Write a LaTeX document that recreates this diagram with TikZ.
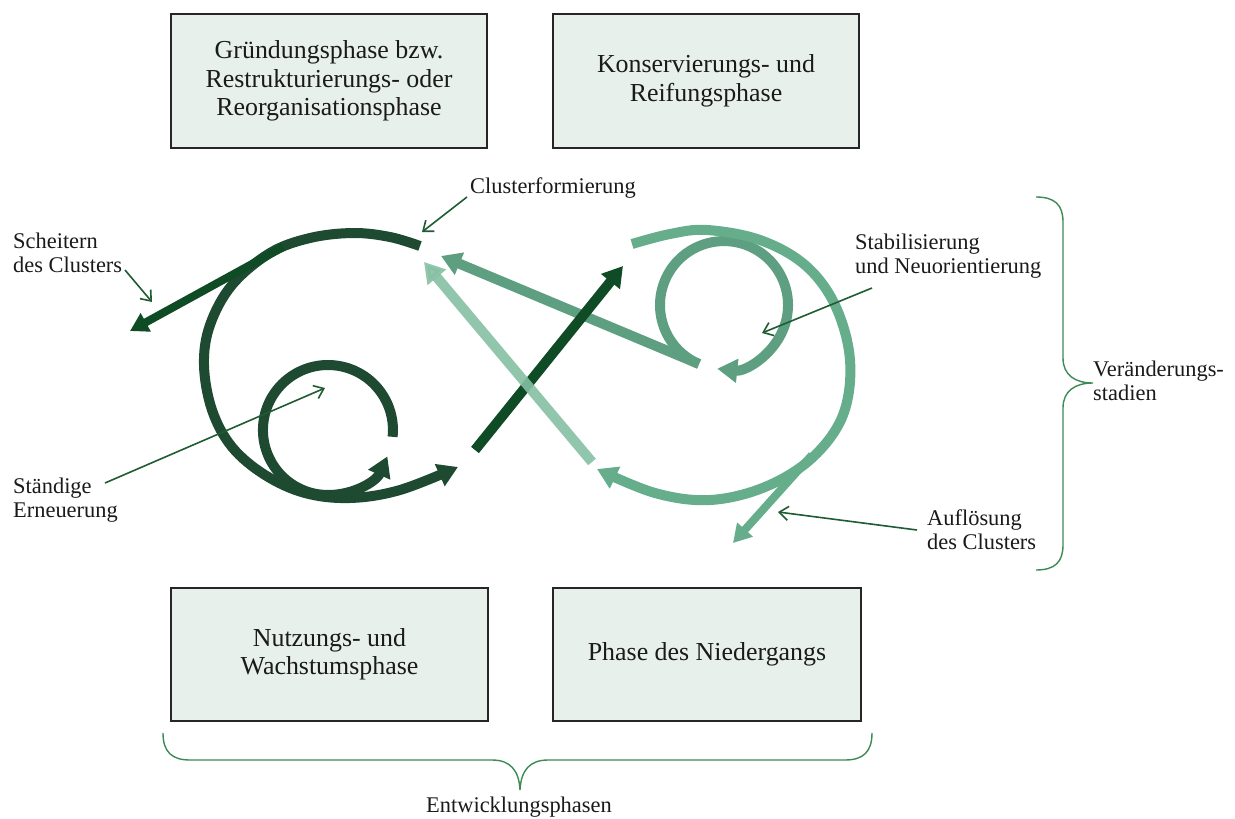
\documentclass[tikz,border=0pt]{standalone}
\usepackage{fontspec}
\setmainfont{Liberation Serif}
\usetikzlibrary{arrows.meta}
\definecolor{boxfill}{HTML}{E8F0EC}
\definecolor{boxline}{HTML}{262626}
\definecolor{darkloop}{HTML}{1D4A31}
\definecolor{darkarrow}{HTML}{0F4B24}
\definecolor{medloop}{HTML}{66AD8C}
\definecolor{medinner}{HTML}{5E9F81}
\definecolor{lightline}{HTML}{86C0A3}
\definecolor{annot}{HTML}{1F5C33}
\definecolor{bracecol}{HTML}{3C8A56}
\definecolor{txt}{HTML}{1A1A1A}
\begin{document}
\begin{tikzpicture}[x=1bp,y=-1bp,
  phasebox/.style={draw=boxline, line width=1.4bp, fill=boxfill, inner sep=0pt, align=center, text=txt, font=\fontsize{26}{28.5}\selectfont},
  lbl/.style={anchor=base west, align=left, inner sep=0pt, text=txt, font=\fontsize{22.5}{24}\selectfont},
  flow/.style={line width=10bp, -{Triangle[length=20bp,width=23bp]}},
  thinflow/.style={line width=8bp, -{Triangle[length=18bp,width=20bp]}},
  note/.style={draw=annot, line width=1.6bp, -{Straight Barb[length=9bp,width=14bp,line width=1.6bp]}},
  bracestyle/.style={draw=bracecol, line width=1.4bp},
]
\useasboundingbox (0,0) rectangle (1235,819);
\fill[white] (0,0) rectangle (1235,819);

% phase boxes
\node[phasebox, minimum width=316bp, minimum height=134bp] (b1) at (329,81) {Gründungsphase bzw.\\Restrukturierungs- oder\\Reorganisationsphase};
\node[phasebox, minimum width=306bp, minimum height=134bp] (b2) at (706,81) {Konservierungs- und\\Reifungsphase};
\node[phasebox, minimum width=317bp, minimum height=133bp] (b3) at (329.5,654.5) {Nutzungs- und\\Wachstumsphase};
\node[phasebox, minimum width=308bp, minimum height=133bp] (b4) at (707,654.5) {Phase des Niedergangs};

% labels (base anchor = baseline of last line)
\node[lbl] (cf) at (470,193) {Clusterformierung};
\node[lbl] (sc) at (13,272) {Scheitern\\des Clusters};
\node[lbl] (se) at (13,517) {Ständige\\Erneuerung};
\node[lbl] (st) at (855,273) {Stabilisierung\\und Neuorientierung};
\node[lbl] (af) at (927,549) {Auflösung\\des Clusters};
\node[lbl] (vs) at (1093,400) {Veränderungs-\\stadien};
\node[anchor=base, inner sep=0pt, text=txt, font=\fontsize{22.5}{24}\selectfont] (ep) at (519,812) {Entwicklungsphasen};

% left big loop
\draw[flow, darkloop] plot[smooth, tension=0.6] coordinates {(420,246) (390,237) (353,233) (310,238) (270,253) (232,285) (210,325) (204,365) (212,410) (232,447) (265,475) (305,493) (350,498) (400,490) (458,467)};
% small left circle
\draw[flow, darkloop] (392.6,436.8) arc[start angle=6, end angle=-336, radius=65];
% Scheitern
\draw[thinflow, darkarrow] (283,247) -- (130,331);

% right inner circle and line
\draw[flow, medinner] (699,364) arc[start angle=113, end angle=456, radius=64];
\draw[flow, medinner] (699,364) -- (441,256);
% right outer loop
\draw[flow, medloop] plot[smooth, tension=0.6] coordinates {(632,244) (670,234) (707,230) (760,240) (805,265) (835,305) (850,360) (843,415) (812,458) (765,487) (710,500) (655,493) (597,469)};
% Aufloesung
\draw[thinflow, medloop] (812,455) -- (733,543);

% dark diagonal
\draw[flow, darkarrow] (475,450) -- (623,266);
% light diagonal
\draw[flow, lightline, opacity=0.9] (592,462) -- (424,262);

% annotation arrows
\coordinate (cfS) at (467,197); \coordinate (cfT) at (422,232);
\coordinate (scS) at (125,270); \coordinate (scT) at (152,302);
\coordinate (seS) at (105,483); \coordinate (seT) at (325,388);
\coordinate (stS) at (872,288); \coordinate (stT) at (762,333);
\coordinate (afS) at (917,530); \coordinate (afT) at (778,512);
\draw[note] (cfS) -- (cfT);
\draw[note] (scS) -- (scT);
\draw[note] (seS) -- (seT);
\draw[note] (stS) -- (stT);
\draw[note] (afS) -- (afT);

% braces
\draw[bracestyle] (1036,197) .. controls (1055,197) and (1063,205) .. (1063,222) -- (1063,358) .. controls (1063,375) and (1075,383) .. (1093,383) .. controls (1075,383) and (1063,391) .. (1063,408) -- (1063,545) .. controls (1063,562) and (1055,570) .. (1036,570);
\draw[bracestyle] (163,733) .. controls (163,752) and (172,760) .. (190,760) -- (492,760) .. controls (510,760) and (519,770) .. (520,790) .. controls (521,770) and (530,760) .. (548,760) -- (845,760) .. controls (863,760) and (872,752) .. (872,733);
\end{tikzpicture}
\end{document}
